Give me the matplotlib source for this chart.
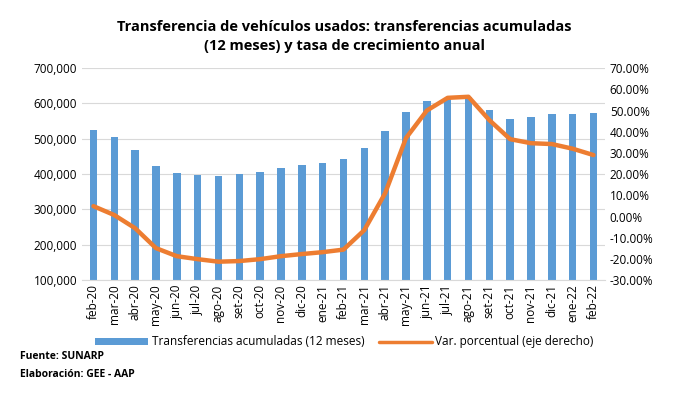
import matplotlib.pyplot as plt
from matplotlib.ticker import FuncFormatter

meses = ["feb-20", "mar-20", "abr-20", "may-20", "jun-20", "jul-20", "ago-20",
         "set-20", "oct-20", "nov-20", "dic-20", "ene-21", "feb-21", "mar-21",
         "abr-21", "may-21", "jun-21", "jul-21", "ago-21", "set-21", "oct-21",
         "nov-21", "dic-21", "ene-22", "feb-22"]
transferencias = [524000, 505000, 468000, 422000, 403000, 397000, 394000,
                  400000, 405000, 417000, 425000, 431000, 442000, 473000,
                  521000, 575000, 606000, 612000, 618000, 581000, 556000,
                  561000, 570000, 570000, 573000]
var_pct = [4.9, 0.7, -5.5, -14.9, -18.7, -20.1, -21.3, -21.0, -20.1, -18.7,
           -17.7, -16.8, -15.6, -6.4, 11.0, 37.0, 50.0, 56.0, 56.5, 45.5,
           36.5, 34.6, 34.2, 32.0, 29.0]

plt.rcParams['font.family'] = ['Open Sans', 'DejaVu Sans']

fig = plt.figure(figsize=(6.89, 3.94), dpi=100)
ax = fig.add_axes([0.119, 0.289, 0.759, 0.538])
x = range(len(meses))

b = ax.bar(x, transferencias, width=0.36, color="#5B9BD5", zorder=2,
           label="Transferencias acumuladas (12 meses)")
ax.set_ylim(100000, 700000)
ax.set_yticks(range(100000, 700001, 100000))
ax.yaxis.set_major_formatter(FuncFormatter(lambda v, p: f"{int(v):,}"))
ax.grid(axis="y", color="#D9D9D9", linewidth=0.8, zorder=0)
ax.set_xlim(-0.55, len(meses) - 0.45)
ax.set_xticks(list(x))
ax.set_xticklabels(meses, rotation=90, fontsize=8.5)
ax.tick_params(axis="y", labelsize=8.5, length=0)
ax.tick_params(axis="x", length=0, pad=3)
for s in ["top", "right", "left"]:
    ax.spines[s].set_visible(False)
ax.spines["bottom"].set_color("#D9D9D9")

ax2 = ax.twinx()
l, = ax2.plot(x, var_pct, color="#ED7D31", linewidth=3.2, zorder=3,
              solid_capstyle="round", label="Var. porcentual (eje derecho)")
ax2.set_ylim(-30, 70)
ax2.set_yticks(range(-30, 71, 10))
ax2.yaxis.set_major_formatter(FuncFormatter(lambda v, p: f"{v:.2f}%"))
ax2.tick_params(axis="y", labelsize=8.5, length=0)
for s in ["top", "right", "left", "bottom"]:
    ax2.spines[s].set_visible(False)

fig.text(0.5, 0.908, "Transferencia de vehículos usados: transferencias acumuladas\n(12 meses) y tasa de crecimiento anual",
         ha="center", va="center", fontsize=10.5, fontweight="bold", linespacing=1.45)

leg = fig.legend([b, l], [b.get_label(), l.get_label()], loc="center",
                 bbox_to_anchor=(0.5, 0.132), ncol=2, frameon=False, fontsize=8.5,
                 handlelength=4.5, handleheight=0.5, columnspacing=1.2, handletextpad=0.3)
leg.get_lines()[0].set_linewidth(2.5)

fig.text(0.029, 0.09, "Fuente: SUNARP", fontsize=7.5, fontweight="bold")
fig.text(0.029, 0.044, "Elaboración: GEE - AAP", fontsize=7.5, fontweight="bold")

fig.savefig("out.png", dpi=100)
